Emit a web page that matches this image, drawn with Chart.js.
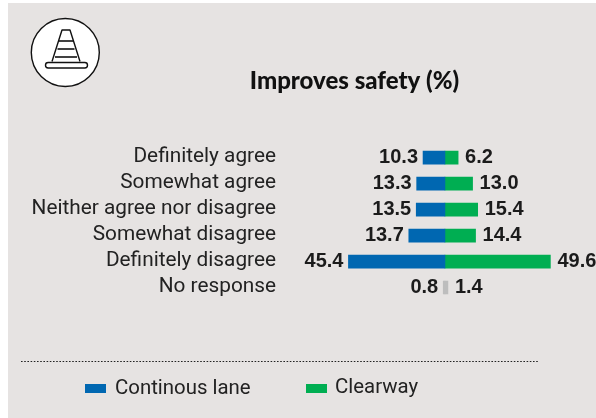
<!DOCTYPE html>
<html>
<head>
<meta charset="utf-8">
<style>html,body{margin:0;padding:0;background:#fff}canvas{display:block}</style>
<script src="https://cdn.jsdelivr.net/npm/chart.js@4"></script>
</head>
<body>
<canvas id="c" width="596" height="418"></canvas>
<script>
const categories = ["Definitely agree","Somewhat agree","Neither agree nor disagree","Somewhat disagree","Definitely disagree","No response"];
// Bar lengths as drawn in the picture (the fourth blue bar is drawn longer than its printed label).
const continuousBars = [10.3,13.3,13.5,17,45.4,0.8];
const clearwayBars = [6.2,13.0,15.4,14.4,49.6,1.4];
// Printed labels
const continuousLabels = ["10.3","13.3","13.5","13.7","45.4","0.8"];
const clearwayLabels = ["6.2","13.0","15.4","14.4","49.6","1.4"];
const title = "Improves safety (%)";
const seriesNames = ["Continous lane","Clearway"];
const BLUE="#0067B1", GREEN="#00AE52", GREY="#BDBDBD", INK="#1b1b1b";
const colorsFor = c => categories.map((n,i)=> i===categories.length-1 ? GREY : c);

const decor = {
  id:'decor',
  beforeDraw(ch){
    const g=ch.ctx;
    g.save();
    g.fillStyle='#E6E3E2'; g.fillRect(8,3,588,415);
    // cone icon
    g.beginPath(); g.arc(65.3,52.5,34,0,Math.PI*2); g.fillStyle='#fff'; g.fill();
    g.strokeStyle='#111'; g.lineWidth=1.4; g.stroke();
    g.lineWidth=1.4; g.lineJoin='round';
    g.beginPath(); g.moveTo(52,61.5); g.lineTo(62,30); g.lineTo(70,30); g.lineTo(80,61.5); g.stroke();
    g.lineWidth=1.6;
    [[59,73,41],[57.5,74.5,49],[55,77,57]].forEach(([a,b,y])=>{g.beginPath();g.moveTo(a,y);g.lineTo(b,y);g.stroke();});
    g.lineWidth=1.4;
    g.beginPath(); g.roundRect(45.5,62.5,42,5.5,2.7); g.fillStyle='#fff'; g.fill(); g.stroke();
    // title
    g.fillStyle='#111'; g.textBaseline='middle'; g.textAlign='center';
    g.font='900 24px Lato';
    g.fillText(title,354.5,81);
    // dotted rule
    g.strokeStyle='#222'; g.lineWidth=1; g.setLineDash([1.6,1.6]);
    g.beginPath(); g.moveTo(21,361.5); g.lineTo(539,361.5); g.stroke();
    g.setLineDash([]);
    // legend
    g.textAlign='left'; g.font='20.4px Roboto';
    g.fillStyle=BLUE; g.fillRect(85,384,21,9);
    g.fillStyle=GREEN; g.fillRect(306,384,21,9);
    g.fillStyle='#222';
    g.fillText(seriesNames[0],115,389);
    g.fillText(seriesNames[1],335,387.5);
    g.restore();
  },
  afterDatasetsDraw(ch){
    const g=ch.ctx, x=ch.scales.x, y=ch.scales.y;
    g.save();
    g.font='bold 20px "Liberation Sans"'; g.fillStyle=INK; g.textBaseline='middle';
    categories.forEach((n,i)=>{
      const yy=y.getPixelForValue(i);
      g.textAlign='right';
      g.fillText(continuousLabels[i],x.getPixelForValue(-continuousBars[i])-5,yy);
      g.textAlign='left';
      g.fillText(clearwayLabels[i],x.getPixelForValue(clearwayBars[i])+7,yy);
    });
    g.restore();
  }
};

new Chart(document.getElementById('c'),{
  type:'bar',
  data:{
    labels:categories,
    datasets:[
      {label:seriesNames[0],data:continuousBars.map(v=>-v),backgroundColor:colorsFor(BLUE),barThickness:13,borderWidth:0},
      {label:seriesNames[1],data:clearwayBars,backgroundColor:colorsFor(GREEN),barThickness:13,borderWidth:0}
    ]
  },
  plugins:[decor],
  options:{
    indexAxis:'y',
    responsive:false,
    animation:false,
    layout:{padding:{top:144.7,bottom:117.5,left:0,right:2.25}},
    plugins:{legend:{display:false},tooltip:{enabled:false},title:{display:false}},
    scales:{
      x:{stacked:true,min:-79,max:70,display:false},
      y:{stacked:true,
        grid:{display:false,drawTicks:false},border:{display:false},
        afterFit(s){s.width=277;},
        ticks:{padding:1,color:'#222',font:{family:'Roboto',size:20.8},autoSkip:false,labelOffset:-0.5}
      }
    }
  }
});
</script>
</body>
</html>
